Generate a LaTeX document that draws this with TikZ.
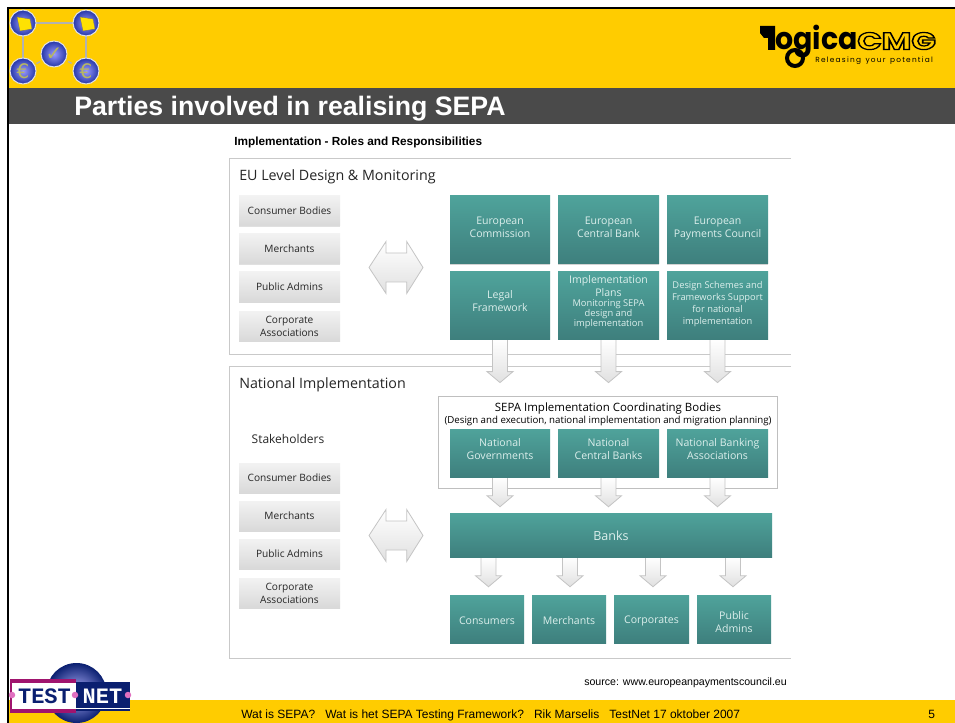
\documentclass[tikz,border=0pt]{standalone}
\usepackage{fontspec}
\setmainfont{Liberation Sans}
\newfontfamily\boxfont{Open Sans}
\newfontfamily\logofont{Poppins}
\newfontfamily\testfont{Liberation Mono}
\usetikzlibrary{shadows,calc}
\pgfdeclarelayer{under}
\pgfsetlayers{under,main}
\definecolor{sunny}{HTML}{FFCC00}
\definecolor{bandgray}{HTML}{4A4A4A}
\definecolor{framegray}{HTML}{C9C9C9}
\definecolor{arrowline}{HTML}{C4C4C4}
\definecolor{tealtop}{HTML}{4FA39B}
\definecolor{tealbot}{HTML}{3E7F7D}
\definecolor{tealtext}{HTML}{DCEFEC}
\definecolor{globeblue}{HTML}{2536A8}
\definecolor{navy}{HTML}{0A1F70}
\definecolor{magenta}{HTML}{A0146E}
\definecolor{pinkdot}{HTML}{E070C0}
\definecolor{olive}{HTML}{B8B860}
\newcommand{\px}[1]{\fontsize{\dimexpr#1pt*3/4\relax}{\dimexpr#1pt*9/10\relax}\selectfont}
\newcommand{\smallteal}{\fontsize{7pt}{7.5pt}\selectfont}
\newcommand{\blockdown}[3]{%
  \coordinate (#1) at (#3);
  \path[blockstyle] let \p1=(#2),\p2=(#1) in
    (\x2-5.6pt,\y1) -- (\x2-5.6pt,\y2+8.25pt) -- (\x2-9.75pt,\y2+8.25pt) -- (\x2,\y2)
    -- (\x2+9.75pt,\y2+8.25pt) -- (\x2+5.6pt,\y2+8.25pt) -- (\x2+5.6pt,\y1) -- cycle;}
\newcommand{\blockboth}[1]{%
  \path[blockstyle] (#1) ++(-27,0) -- ++(17,-26) -- ++(0,11.5) -- ++(20.7,0) -- ++(0,-11.5)
    -- ++(16.3,26) -- ++(-16.3,26) -- ++(0,-11.5) -- ++(-20.7,0) -- ++(0,11.5) -- cycle;}
\tikzset{
  size/.style 2 args={minimum width=#1*0.75pt,minimum height=#2*0.75pt,inner sep=0pt},
  vpad/.style 2 args={execute at begin node={\rule{0pt}{#1pt}},execute at end node={\rule[-#2pt]{0pt}{#2pt}}},
  tealbox/.style={rectangle,top color=tealtop,bottom color=tealbot,draw=none,text=tealtext,align=center,
    font=\boxfont\fontsize{7.9pt}{9.75pt}\selectfont,
    drop shadow={shadow xshift=0pt,shadow yshift=-1pt,opacity=.35,fill=black!50}},
  graybox/.style={rectangle,top color=black!5,bottom color=black!15,draw=none,text=black!85,align=center,size={101}{30},
    font=\boxfont\fontsize{7.6pt}{9.75pt}\selectfont,
    drop shadow={shadow xshift=0pt,shadow yshift=-1pt,opacity=.3,fill=black!40}},
  blockstyle/.style={draw=arrowline,line width=.6pt,top color=white,bottom color=black!12},
  framebox/.style={draw=framegray,line width=.6pt},
  heading/.style={anchor=west,inner sep=0pt,font=\boxfont\fontsize{10.7pt}{12pt}\selectfont,text=black!85},
  globe/.style={circle,minimum size=26*0.75pt,inner sep=0pt,draw=black!12,line width=.8pt,
    inner color=blue!40!white,outer color=globeblue},
  globelink/.style={draw=black!30,line width=1.5pt},
  sheet/.style={fill=yellow!85!orange,draw=black!60,line width=.2pt},
  glyph/.style={inner sep=0pt,text=olive,font=\fontspec{DejaVu Sans}\fontsize{15pt}{15pt}\selectfont},
  txt/.style={inner sep=0pt,anchor=base west}
}
\begin{document}
\begin{tikzpicture}[x=0.75pt,y=-0.75pt]
\useasboundingbox (0,0) rectangle (955,723);
\begin{pgfonlayer}{under}
\fill[white] (0,0) rectangle (955,723);
\fill[sunny] (9,9) rectangle (955,88);
\fill[bandgray] (9,88) rectangle (955,124);
\fill[sunny] (9,700) rectangle (955,723);
\fill[black] (7,7) rectangle (955,9);
\fill[black] (7,7) rectangle (9,723);
\draw[framebox] (791,158) -- (229,158) -- (229,354) -- (791,354);
\draw[framebox] (791,366) -- (229,366) -- (229,658) -- (791,658);
\node[rectangle,draw=black!25,fill=white,size={339}{92},line width=.6pt,
  drop shadow={shadow xshift=0pt,shadow yshift=-1pt,opacity=.3,fill=black!40}] (coord) at (607.5,442) {};
\end{pgfonlayer}
\node[txt,text=white,font=\bfseries\px{26.7}] (title) at (74,116) {Parties involved in realising SEPA};
% top-left logo
\coordinate (c1) at (23,23); \coordinate (c2) at (86,23); \coordinate (c3) at (54,54);
\coordinate (c4) at (23,71); \coordinate (c5) at (86,71);
\begin{pgfonlayer}{under}
\draw[globelink] (c1) -- (c2);
\draw[globelink] (c1) -- (c4);
\draw[globelink] (c2) -- (c5);
\draw[globelink,dashed,line width=1pt] (c3) -- (c4);
\draw[globelink,dashed,line width=1pt] (c3) -- (c5);
\end{pgfonlayer}
\node[globe] (g1) at (c1) {};
\node[globe] (g2) at (c2) {};
\node[globe] (g3) at (c3) {};
\node[globe] (g4) at (c4) {};
\node[globe] (g5) at (c5) {};
\foreach \n in {g1,g2}{
  \fill[sheet] ([shift={(-6,-6)}]\n.center) -- ([shift={(7,-4)}]\n.center) -- ([shift={(9,6)}]\n.center) -- ([shift={(-3,8)}]\n.center) -- cycle;
}
\node[glyph] at (g3) {✓};
\node[glyph] at (g4) {€};
\node[glyph] at (g5) {€};
% logica logo
\fill[black] (760,26) -- (775,26) -- (775,50) -- (768,50) -- (768,38) -- (764,38) -- (760,33) -- cycle;
\draw[black,line width=3pt] (795,58) circle (8);
\node[txt,font=\logofont\bfseries\px{29}] (logica) at (775,50) {\scalebox{.98}[1.05]{ogica}};
\node[txt] (cmg) at (857,49.5) {\special{pdf:code 1 Tr 0.9 w}\scalebox{1.34}[1]{\logofont\bfseries\px{24}CMG}\special{pdf:code 0 Tr}};
\node[txt,font=\logofont\px{7.4}] (tag) at (815,63) {R\,e\,l\,e\,a\,s\,i\,n\,g\, \,y\,o\,u\,r\, \,p\,o\,t\,e\,n\,t\,i\,a\,l};
% caption
\node[txt,font=\bfseries\px{11.8}] (caption) at (234,146) {Implementation - Roles and Responsibilities};
\node[heading] (h1) at (239,177) {EU Level Design \& Monitoring};
\node[heading] (h2) at (239,385) {National Implementation};
\node[inner sep=0pt,font=\boxfont\fontsize{9pt}{11pt}\selectfont,text=black!85] (stake) at (288,439) {Stakeholders};
\node[inner sep=0pt,font=\boxfont\fontsize{8.6pt}{10pt}\selectfont,text=black] (coordt) at (608,409) {SEPA Implementation Coordinating Bodies};
\node[inner sep=0pt,font=\boxfont\fontsize{7.27pt}{9pt}\selectfont,text=black] (coords) at (608,420.5) {(Design and execution, national implementation and migration planning)};
% teal boxes
\node[tealbox,size={100}{68},vpad={13}{3.7}] (ec) at (500,230) {European\\Commission};
\node[tealbox,size={101}{68},vpad={13}{3.7}] (ecb) at (608.5,230) {European\\Central Bank};
\node[tealbox,size={101}{68},vpad={13}{3.7}] (epc) at (717.5,230) {European\\Payments Council};
\node[tealbox,size={100}{67},vpad={8}{7}] (lf) at (500,305.5) {Legal\\Framework};
\node[tealbox,size={101}{67},vpad={12}{7.25}] (ip) at (608.5,305.5) {Implementation\\Plans\\[-2.25pt]\smallteal Monitoring SEPA\\[-2.25pt]\smallteal design and\\[-2.25pt]\smallteal implementation};
\node[tealbox,size={101}{67},vpad={11.5}{4.45},font=\boxfont\fontsize{7pt}{9pt}\selectfont] (ds) at (717.5,305.5) {Design Schemes and\\Frameworks Support\\for national\\implementation};
\node[tealbox,size={100}{48},vpad={13}{5.3}] (ng) at (500,453) {National\\Governments};
\node[tealbox,size={101}{48},vpad={13}{5.3}] (ncb) at (608.5,453) {National\\Central Banks};
\node[tealbox,size={101}{48},vpad={13}{5.3}] (nba) at (717.5,453) {National Banking\\Associations};
\node[tealbox,size={322}{44},vpad={13}{4.5},font=\boxfont\fontsize{9.4pt}{11pt}\selectfont] (banks) at (611,535) {Banks};
\node[tealbox,size={74}{48},vpad={13}{4.5}] (cons) at (487,619) {Consumers};
\node[tealbox,size={74}{48},vpad={13}{4.5}] (merc) at (569,619) {Merchants};
\node[tealbox,size={75}{48},vpad={11.5}{4.5}] (corp) at (651.5,619) {Corporates};
\node[tealbox,size={74}{48},vpad={23}{3.3}] (pub) at (734,619) {Public\\Admins};
% block arrows
\begin{pgfonlayer}{under}
\blockdown{a1}{lf.south}{$(lf.south |- coord.north)+(0,-13)$}
\blockdown{a2}{ip.south}{$(ip.south |- coord.north)+(0,-13)$}
\blockdown{a3}{ds.south}{$(ds.south |- coord.north)+(0,-13)$}
\blockdown{a4}{ng.south}{$(ng.south |- banks.north)+(0,-6)$}
\blockdown{a5}{ncb.south}{$(ncb.south |- banks.north)+(0,-6)$}
\blockdown{a6}{nba.south}{$(nba.south |- banks.north)+(0,-6)$}
\blockdown{a7}{banks.south}{$(cons.north)+(1.5,-8)$}
\blockdown{a8}{banks.south}{$(merc.north)+(1,-8)$}
\blockdown{a9}{banks.south}{$(corp.north)+(1.5,-8)$}
\blockdown{a10}{banks.south}{$(pub.north)+(-1,-8)$}
\end{pgfonlayer}
% gray boxes
\foreach \y/\t/\m in {211/Consumer Bodies/a,249/Merchants/b,287/Public Admins/c,326/{Corporate\\Associations}/d,478/Consumer Bodies/e,516/Merchants/f,554/Public Admins/g,593/{Corporate\\Associations}/h}{
  \node[graybox] (s\m) at (289.5,\y) {\t};
}
\coordinate (d1) at (396,267.5);
\coordinate (d2) at (396,535.5);
\blockboth{d1}
\blockboth{d2}
% source and footer
\node[txt,font=\px{10.6}] (src) at (584,685) {source: www.europeanpaymentscouncil.eu};
\node[txt,font=\px{12}] (foot) at (241,718) {Wat is SEPA?\ \ \ Wat is het SEPA Testing Framework?\ \ \ Rik Marselis\ \ \ TestNet 17 oktober 2007};
\node[txt,font=\px{12}] (page) at (928,718) {5};
% test-net logo
\begin{scope}
\clip (0,650) rectangle (955,723);
\node[circle,minimum size=60*0.75pt,inner sep=0pt,inner color=blue!30!white,outer color=navy] (globe2) at (76.5,693) {};
\end{scope}
\fill[magenta] (10,679) rectangle (76,713);
\fill[white] (12,683) rectangle (76,709);
\fill[navy] (76,682) rectangle (130,711);
\fill[white] (76,708) rectangle (130,709);
\node[inner sep=0pt,text=navy,font=\testfont\bfseries\px{22}] (test) at (44.5,696) {TEST};
\node[inner sep=0pt,text=white,font=\testfont\bfseries\px{22}] (net) at (102.5,696) {NET};
\foreach \x/\m in {12/p,75/q,128/r}{\node[circle,fill=pinkdot,minimum size=6.5*0.75pt,inner sep=0pt] (dot\m) at (\x,695) {};}
\end{tikzpicture}
\end{document}
